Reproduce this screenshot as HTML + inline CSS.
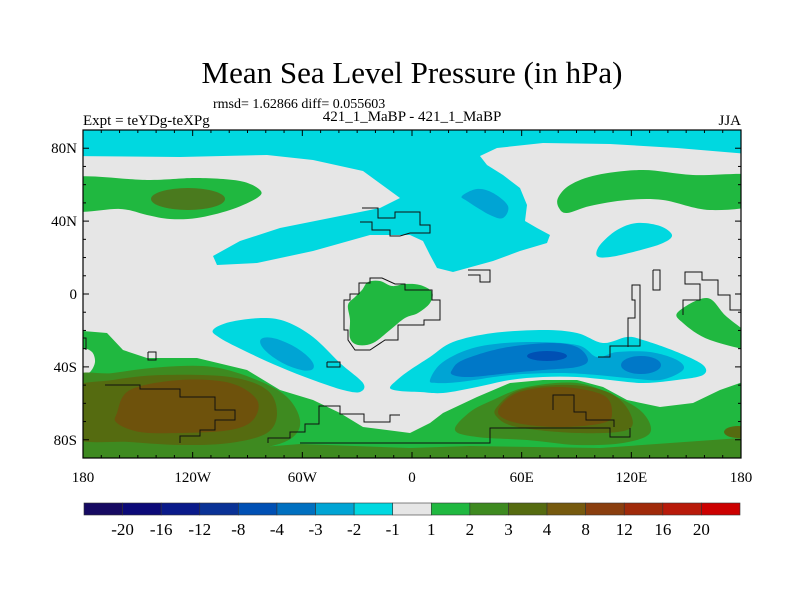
<!DOCTYPE html>
<html><head><meta charset="utf-8"><style>
body{margin:0;background:#fff;}
svg{display:block;font-family:"Liberation Serif",serif;}
</style></head><body>
<svg id="chart" width="800" height="600" viewBox="0 0 800 600">
<defs><clipPath id="pc"><rect x="83" y="130" width="658" height="328"/></clipPath></defs>
<text x="412" y="83" font-size="31" text-anchor="middle">Mean Sea Level Pressure (in hPa)</text>
<text x="213" y="108" font-size="14">rmsd= 1.62866 diff= 0.055603</text>
<text x="412" y="121" font-size="15" text-anchor="middle">421_1_MaBP - 421_1_MaBP</text>
<text x="83" y="125" font-size="15">Expt = teYDg-teXPg</text>
<text x="741" y="125" font-size="15" text-anchor="end">JJA</text>
<g id="field" clip-path="url(#pc)">
<rect x="83" y="130" width="658" height="328" fill="#e6e6e6"/>
</g>
<g id="axes"></g>
<g id="cbar"></g>
</svg>
<script>
const levelLabels=["-20","-16","-12","-8","-4","-3","-2","-1","1","2","3","4","8","12","16","20"];
const levelColors=["#160a62","#0c0a78","#0a1a8a","#0a3296","#0050b4","#0070c0","#00a4d4","#00d8e0","#e6e6e6","#20b840","#3e8a20","#556b10","#765a0e","#8a3e0e","#a02a0a","#b81a0a","#cc0000"];
const lonTicks=["180","120W","60W","0","60E","120E","180"];
const lonVals=[-180,-120,-60,0,60,120,180];
const latTicks=["80N","40N","0","40S","80S"];
const latVals=[80,40,0,-40,-80];
const NS="http://www.w3.org/2000/svg";
const X0=83,X1=741,Y0=130,Y1=458;
const xLon=l=>X0+(l+180)/360*(X1-X0);
const yLat=a=>Y0+(90-a)/180*(Y1-Y0);
function mk(tag,attrs,parent){const e=document.createElementNS(NS,tag);for(const k in attrs)e.setAttribute(k,attrs[k]);parent.appendChild(e);return e;}
function smooth(p){let d="M"+p[0][0]+","+p[0][1];const n=p.length;for(let i=0;i<n;i++){const p0=p[(i-1+n)%n],p1=p[i],p2=p[(i+1)%n],p3=p[(i+2)%n];
d+=" C"+(p1[0]+(p2[0]-p0[0])/6).toFixed(1)+","+(p1[1]+(p2[1]-p0[1])/6).toFixed(1)+" "+(p2[0]-(p3[0]-p1[0])/6).toFixed(1)+","+(p2[1]-(p3[1]-p1[1])/6).toFixed(1)+" "+p2[0]+","+p2[1];}return d+"Z";}
const F=document.getElementById('field');
function blob(name,color,pts,poly){const e=mk('path',{d:poly?"M"+pts.map(p=>p.join(",")).join(" L")+"Z":smooth(pts),fill:color},F);

}
function ell(name,color,cx,cy,rx,ry,rot){const e=mk('ellipse',{cx:cx,cy:cy,rx:rx,ry:ry,fill:color,transform:`rotate(${rot||0} ${cx} ${cy})`},F);

}
const C1="#00d8e0",C2="#00a4d4",C3="#0078c8",C4="#0050b4",G1="#20b840",G2="#3e8a20",G3="#556b10",G4="#6e520c";
blob('north-cyan-region',C1,[[70,120],[760,120],[760,155],[677,148],[610,144],[543,143],[497,148],[480,156],[487,165],[503,175],[520,188],[527,205],[525,221],[537,228],[550,235],[547,243],[520,251],[493,261],[453,272],[437,268],[430,255],[423,241],[410,235],[370,235],[313,251],[257,263],[217,265],[213,256],[240,241],[280,228],[330,218],[380,208],[400,198],[363,171],[313,160],[267,155],[180,157],[70,156]],true);
blob('north-blue-core',C2,[[462,196],[477,189],[493,193],[508,206],[503,218],[490,215],[467,201]]);
blob('pacific-cyan-blob',C1,[[597,256],[600,245],[617,230],[637,223],[660,226],[672,235],[663,243],[637,251],[610,257]]);
blob('asia-green-band',G1,[[558,198],[570,185],[597,175],[643,170],[693,175],[760,176],[760,203],[710,210],[663,200],[627,200],[590,206],[567,213],[559,208]]);
blob('na-green-band',G1,[[70,178],[147,180],[197,178],[240,181],[260,190],[257,198],[230,210],[197,218],[170,219],[147,215],[120,209],[70,210]]);
ell('na-dark-green-core',"#4a7a1e",188,199,37,11,0);
blob('africa-green',G1,[[350,320],[348,305],[355,297],[362,290],[368,282],[380,281],[392,286],[405,284],[420,285],[432,292],[430,303],[418,313],[405,318],[390,330],[373,343],[358,345],[350,338]]);
blob('sw-pacific-green',G1,[[678,312],[707,298],[727,317],[760,343],[760,352],[710,340],[683,323]]);
blob('south-atlantic-cyan',C1,[[213,330],[230,322],[263,318],[287,322],[313,337],[340,363],[363,383],[360,392],[343,390],[313,380],[280,367],[247,352],[220,338]]);
ell('south-atlantic-blue',C2,287,354,30,10,28);
blob('indian-ocean-cyan',C1,[[390,388],[397,380],[410,370],[430,357],[453,342],[493,333],[543,330],[577,333],[603,343],[627,337],[643,340],[677,352],[703,365],[703,375],[677,380],[643,383],[610,380],[577,377],[543,377],[510,380],[477,387],[443,393],[420,392],[400,391]]);
blob('indian-ocean-lightblue',C2,[[430,380],[443,362],[477,347],[527,342],[577,345],[597,357],[617,352],[650,352],[677,360],[683,370],[660,380],[627,378],[597,375],[560,373],[510,375],[460,382],[437,383]]);
blob('indian-ocean-blue',C3,[[452,370],[463,360],[503,348],[550,343],[577,347],[588,360],[577,367],[543,370],[510,373],[470,377],[453,375]]);
ell('australia-blue',C3,641,365,20,9,0);
ell('indian-ocean-darkblue',C4,547,356,20,5,0);
blob('southern-green',G1,[[70,330],[107,333],[123,350],[147,358],[197,358],[247,370],[280,390],[313,400],[340,413],[363,427],[410,433],[430,423],[443,413],[477,397],[510,383],[543,380],[577,380],[603,387],[627,400],[660,407],[693,403],[720,390],[760,376],[760,470],[70,470]],true);
blob('sw-gray-notch','#e6e6e6',[[83,350],[92,352],[95,362],[90,372],[83,372]]);
blob('south-pacific-darkgreen',G2,[[70,380],[113,373],[163,367],[213,367],[257,380],[287,397],[300,420],[293,437],[267,447],[213,453],[147,453],[113,452],[70,450]]);
blob('south-pacific-olive',G3,[[70,390],[113,380],[163,375],[230,377],[267,390],[277,413],[267,433],[230,443],[180,445],[130,442],[70,437]]);
blob('south-pacific-brown',G4,[[117,413],[130,390],[180,380],[230,383],[257,400],[253,420],[230,430],[180,433],[140,432],[117,423]]);
blob('south-indian-darkgreen',G2,[[455,430],[470,412],[493,400],[527,387],[577,383],[617,397],[643,413],[650,433],[623,443],[577,445],[527,440],[477,437]]);
blob('south-bottom-darkgreen',G2,[[70,448],[200,452],[300,444],[410,448],[470,446],[600,448],[741,438],[760,440],[760,470],[70,470]],true);
blob('south-indian-olive',G3,[[497,407],[520,390],[570,385],[610,393],[630,413],[627,430],[577,433],[517,427],[497,417]]);
blob('south-indian-brown',G4,[[498,412],[517,393],[560,387],[603,395],[612,413],[603,423],[560,427],[517,423]]);
ell('east-edge-olive',G3,738,432,14,6,0);
const coasts=[
[[268,443],[268,438],[290,438],[290,432],[305,432],[305,424],[319,424],[319,406],[340,406],[340,414],[364,414],[364,422],[390,422],[390,415],[400,415]],
[[300,443],[490,443],[490,428],[610,428],[610,437],[630,437],[630,428]],
[[180,443],[180,436],[200,436],[200,430],[215,430],[215,420],[235,420],[235,410],[215,410],[215,397],[180,397],[180,389],[140,389],[140,385],[105,385]],
[[553,410],[553,395],[574,395],[574,412],[586,412],[586,420],[614,420],[614,427]],
[[362,208],[378,208],[378,218],[395,218],[395,212],[420,212],[420,225],[430,225],[430,233],[410,233],[400,236],[390,236],[390,230],[372,230],[372,222],[360,222]],
[[359,294],[359,283],[370,283],[370,278],[382,278],[395,284],[405,284],[405,290],[432,290],[432,300],[440,300],[440,320],[424,320],[424,325],[398,325],[398,340],[385,340],[370,350],[355,350],[348,340],[348,330],[344,330],[344,300],[350,300],[350,294],[359,294]],
[[628,347],[628,318],[635,318],[635,300],[632,300],[632,285],[640,285],[640,346],[610,346],[610,357],[598,357]],
[[683,315],[683,300],[700,300],[700,284],[685,284],[685,272],[702,272],[702,280],[718,280],[718,295],[730,295],[730,310],[741,310]],
[[653,270],[653,290],[660,290],[660,270],[653,270]],
[[468,270],[490,270],[490,282],[480,282],[480,275],[468,275]],
[[148,352],[156,352],[156,360],[148,360],[148,352]],
[[327,362],[340,362],[340,367],[327,367],[327,362]],
[[83,338],[86,338],[86,350]]];
coasts.forEach((c,i)=>{const e=mk('polyline',{points:c.map(p=>p.join(",")).join(" "),fill:"none",stroke:"#111","stroke-width":"1"},F);

});
const A=document.getElementById('axes');
const frame=mk('rect',{x:X0,y:Y0,width:X1-X0,height:Y1-Y0,fill:"none",stroke:"#000","stroke-width":"1.2"},A);


for(let l=-180;l<=180;l+=10){const x=xLon(l),maj=(l%60===0),len=maj?6:3;
mk('line',{x1:x,y1:Y0,x2:x,y2:Y0+len,stroke:"#000"},A);mk('line',{x1:x,y1:Y1,x2:x,y2:Y1-len,stroke:"#000"},A);}
for(let a=-90;a<=90;a+=10){const y=yLat(a),maj=(a%40===0&&a!==0)||a===0,len=maj?6:3;
mk('line',{x1:X0,y1:y,x2:X0+len,y2:y,stroke:"#000"},A);mk('line',{x1:X1,y1:y,x2:X1-len,y2:y,stroke:"#000"},A);}
lonTicks.forEach((t,i)=>{const e=mk('text',{x:xLon(lonVals[i]),y:482,"font-size":"15","text-anchor":"middle"},A);e.textContent=t;

});
latTicks.forEach((t,i)=>{const e=mk('text',{x:77,y:yLat(latVals[i])+5,"font-size":"15","text-anchor":"end"},A);e.textContent=t;

});
const CB=document.getElementById('cbar');
const bx0=84,bx1=740,bw=(bx1-bx0)/levelColors.length;
levelColors.forEach((c,i)=>{const r=mk('rect',{x:bx0+i*bw,y:503,width:bw,height:12,fill:c,stroke:"#333","stroke-width":"0.6"},CB);

});
levelLabels.forEach((t,i)=>{const e=mk('text',{x:bx0+(i+1)*bw,y:535,"font-size":"17","text-anchor":"middle"},CB);e.textContent=t;

});
</script>
</body></html>
